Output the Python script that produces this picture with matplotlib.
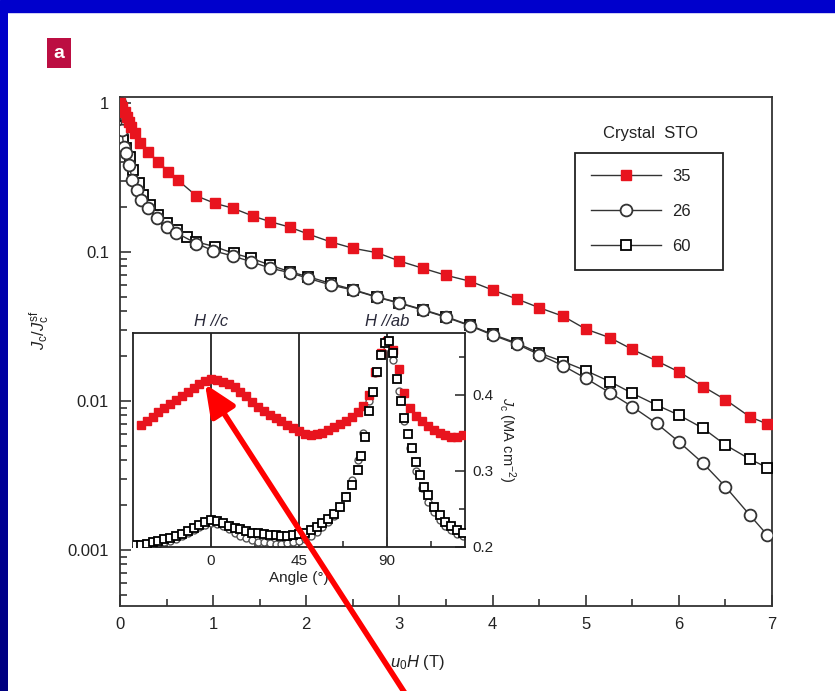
import numpy as np
import matplotlib
matplotlib.use("Agg")
import matplotlib.pyplot as plt
from matplotlib import font_manager
from matplotlib.patches import Rectangle, FancyArrowPatch
from matplotlib.ticker import FixedLocator, FixedFormatter, NullFormatter

# narrow helvetica-like font if there is one
try:
    font_manager.findfont("Liberation Sans Narrow", fallback_to_default=False)
    FONT = "Liberation Sans Narrow"
except ValueError:
    FONT = "Liberation Sans"
plt.rcParams["font.family"] = [FONT, "DejaVu Sans"]
plt.rcParams["mathtext.fontset"] = "custom"
plt.rcParams["mathtext.rm"] = FONT
plt.rcParams["mathtext.it"] = FONT + ":italic"

TXT = "#222222"

# main panel: Jc/Jc(sf) vs field
H_35 = [0.0, 0.02, 0.05, 0.08, 0.1, 0.12, 0.16, 0.21, 0.3, 0.41, 0.52, 0.62, 0.82,
        1.02, 1.21, 1.43, 1.61, 1.82, 2.02, 2.26, 2.5, 2.76, 3.0, 3.25, 3.5, 3.76,
        4.0, 4.26, 4.5, 4.76, 5.0, 5.26, 5.5, 5.76, 6.0, 6.26, 6.5, 6.76, 6.95]
jc_35 = [1.0, 0.944, 0.874, 0.809, 0.749, 0.693, 0.626, 0.537, 0.471, 0.404, 0.346,
         0.304, 0.238, 0.212, 0.197, 0.174, 0.160, 0.147, 0.132, 0.117, 0.106,
         0.0989, 0.087, 0.0778, 0.0698, 0.0636, 0.0556, 0.0484, 0.0423, 0.037,
         0.0304, 0.0266, 0.0222, 0.0186, 0.0157, 0.0125, 0.0102, 0.00785, 0.0070]

H_26 = [0.0, 0.02, 0.04, 0.06, 0.1, 0.13, 0.18, 0.23, 0.3, 0.4, 0.5, 0.6, 0.82,
        1.0, 1.21, 1.41, 1.61, 1.82, 2.02, 2.26, 2.5, 2.76, 3.0, 3.25, 3.5, 3.76,
        4.0, 4.26, 4.5, 4.76, 5.0, 5.26, 5.5, 5.76, 6.0, 6.26, 6.5, 6.76, 6.95]
jc_26 = [1.0, 0.659, 0.509, 0.460, 0.384, 0.304, 0.261, 0.223, 0.197, 0.168, 0.148,
         0.135, 0.114, 0.102, 0.094, 0.086, 0.078, 0.0727, 0.0666, 0.0601, 0.0556,
         0.0497, 0.0453, 0.0408, 0.0365, 0.0319, 0.0277, 0.0241, 0.0205, 0.0172,
         0.0142, 0.01137, 0.00916, 0.00708, 0.00533, 0.00382, 0.00266, 0.00172,
         0.00126]

H_60 = [0.0, 0.03, 0.06, 0.11, 0.14, 0.2, 0.25, 0.32, 0.41, 0.5, 0.61, 0.72, 0.82,
        1.02, 1.22, 1.41, 1.61, 1.82, 2.02, 2.26, 2.5, 2.76, 3.0, 3.25, 3.5, 3.76,
        4.0, 4.26, 4.5, 4.76, 5.0, 5.26, 5.5, 5.76, 6.0, 6.26, 6.5, 6.76, 6.95]
jc_60 = [0.70, 0.565, 0.497, 0.436, 0.355, 0.289, 0.241, 0.207, 0.177, 0.156, 0.141,
         0.127, 0.117, 0.1085, 0.098, 0.0907, 0.0818, 0.0738, 0.0683, 0.0616,
         0.0560, 0.0500, 0.0456, 0.0411, 0.0368, 0.0322, 0.0280, 0.0245, 0.0210,
         0.0184, 0.0160, 0.0135, 0.01127, 0.0094, 0.00805, 0.00656, 0.00507,
         0.00408, 0.00357]

x_ticks = [0, 1, 2, 3, 4, 5, 6, 7]
y_ticks = [1, 0.1, 0.01, 0.001]
y_ticklabels = ["1", "0.1", "0.01", "0.001"]

# inset: Jc vs angle (MA cm^-2)
ang_35 = [-36, -33, -30, -27, -24, -21, -18, -15, -12, -9, -6, -3, 0, 3, 6, 9, 12,
          15, 18, 21, 24, 27, 30, 33, 36, 39, 42, 45, 48, 51, 54, 57, 60, 63, 66,
          69, 72, 75, 78, 81, 84, 87, 90, 93, 96, 99, 102, 105, 108, 111, 114,
          117, 120, 123, 126, 129]
ja_35 = [0.360, 0.366, 0.371, 0.377, 0.382, 0.388, 0.393, 0.398, 0.404, 0.409,
         0.414, 0.418, 0.421, 0.419, 0.417, 0.414, 0.410, 0.404, 0.398, 0.391,
         0.384, 0.378, 0.373, 0.369, 0.365, 0.360, 0.356, 0.352, 0.349, 0.347,
         0.348, 0.350, 0.353, 0.357, 0.361, 0.366, 0.371, 0.377, 0.385, 0.400,
         0.430, 0.455, 0.470, 0.459, 0.434, 0.402, 0.383, 0.372, 0.365, 0.359,
         0.354, 0.350, 0.347, 0.345, 0.345, 0.347]

ang_60 = [-39, -36, -33, -30, -27, -24, -21, -18, -15, -12, -9, -6, -3, 0, 3, 6, 9,
          12, 15, 18, 21, 24, 27, 30, 33, 36, 39, 42, 45, 48, 51, 54, 57, 60, 63,
          66, 69, 72, 75, 77, 79, 81, 83, 85, 87, 89, 91, 93, 95, 97, 99, 101,
          103, 105, 107, 109, 111, 114, 117, 120, 123, 126, 129]
ja_60 = [0.202, 0.203, 0.204, 0.206, 0.208, 0.210, 0.212, 0.214, 0.217, 0.221,
         0.225, 0.229, 0.233, 0.235, 0.234, 0.231, 0.228, 0.225, 0.223, 0.221,
         0.219, 0.218, 0.217, 0.216, 0.2155, 0.215, 0.215, 0.216, 0.217, 0.219,
         0.222, 0.226, 0.231, 0.237, 0.243, 0.252, 0.265, 0.281, 0.301, 0.320,
         0.345, 0.378, 0.404, 0.430, 0.452, 0.468, 0.470, 0.455, 0.420, 0.392,
         0.370, 0.348, 0.330, 0.312, 0.295, 0.279, 0.268, 0.253, 0.242, 0.233,
         0.227, 0.222, 0.218]

ang_26 = [-39, -36, -33, -30, -27, -24, -21, -18, -15, -12, -9, -6, -3, 0, 3, 6, 9,
          12, 15, 18, 21, 24, 27, 30, 33, 36, 39, 42, 45, 48, 51, 54, 57, 60, 63,
          66, 69, 72, 75, 78, 81, 84, 87, 90, 93, 96, 99, 102, 105, 108, 111, 114,
          117, 120, 123, 126, 129]
ja_26 = [0.200, 0.200, 0.201, 0.202, 0.204, 0.206, 0.208, 0.211, 0.214, 0.218,
         0.222, 0.226, 0.229, 0.231, 0.230, 0.227, 0.223, 0.219, 0.215, 0.212,
         0.209, 0.207, 0.206, 0.205, 0.204, 0.204, 0.205, 0.206, 0.208, 0.211,
         0.215, 0.220, 0.226, 0.233, 0.241, 0.252, 0.267, 0.288, 0.314, 0.350,
         0.392, 0.428, 0.452, 0.462, 0.445, 0.405, 0.365, 0.330, 0.300, 0.277,
         0.259, 0.246, 0.236, 0.228, 0.222, 0.217, 0.214]

W, Hpx = 835, 691
fig = plt.figure(figsize=(W / 100, Hpx / 100), dpi=100)
fig.patch.set_facecolor("white")

# blue slide frame (top band + left gradient)
fig.add_artist(Rectangle((0, 1 - 12 / Hpx), 1, 12 / Hpx, transform=fig.transFigure,
                         color="#0000CC", zorder=-5))
ax_bg = fig.add_axes([0, 0, 8 / W, 1 - 12 / Hpx])
grad = np.linspace(0, 1, 200)[:, None]
top_c = np.array([0.0, 0.0, 0.80])
bot_c = np.array([0.0, 0.0, 0.50])
ax_bg.imshow((top_c * (1 - grad) + bot_c * grad)[:, None, :].repeat(2, axis=1),
             aspect="auto")
ax_bg.axis("off")

# panel letter
fig.text(59 / W, 1 - 53 / Hpx, "a", color="white", fontsize=14, weight="bold",
         ha="center", va="center",
         bbox=dict(boxstyle="square,pad=0.35", fc="#BC0E42", ec="none"))

ax = fig.add_axes([120 / W, 1 - 606 / Hpx, 652 / W, 509 / Hpx])
ax.set_yscale("log")
ax.plot(H_60, jc_60, "-", color="#333333", lw=1.0, marker="s", ms=7.5,
        mfc="white", mec="black", mew=1.3, label="60", zorder=3)
ax.plot(H_26, jc_26, "-", color="#333333", lw=1.0, marker="o", ms=8.5,
        mfc="white", mec="#333333", mew=1.3, label="26", zorder=4)
ax.plot(H_35, jc_35, "-", color="#333333", lw=1.0, marker="s", ms=7.5,
        mfc="#E8141E", mec="#E8141E", label="35", zorder=5)
ax.set_xlim(0, 7)
ax.set_ylim(0.000421, 1.097)

ax.xaxis.set_major_locator(FixedLocator(x_ticks))
ax.xaxis.set_minor_locator(FixedLocator(np.arange(0.5, 7, 1.0)))
ax.yaxis.set_major_locator(FixedLocator(y_ticks))
ax.yaxis.set_major_formatter(FixedFormatter(y_ticklabels))
minor_y = [m * 10.0 ** e for e in range(-4, 0) for m in range(2, 10)]
ax.yaxis.set_minor_locator(FixedLocator(minor_y))
ax.yaxis.set_minor_formatter(NullFormatter())
ax.tick_params(which="both", direction="in", top=False, right=False,
               colors="#333333", labelcolor=TXT, labelsize=12, width=1.2)
ax.tick_params(which="major", length=8, pad=8)
ax.tick_params(which="minor", length=5)
for s in ax.spines.values():
    s.set_linewidth(1.3)
    s.set_color("#333333")

ax.set_xlabel(r"$u_0H$ (T)", fontsize=12, color=TXT)
ax.xaxis.set_label_coords(0.457, -0.092)
ax.set_ylabel(r"$J_\mathrm{c}/J_\mathrm{c}^\mathrm{sf}$", fontsize=12, color=TXT)
ax.yaxis.set_label_coords(-0.104, 0.542)

handles, labels = ax.get_legend_handles_labels()
order = [2, 1, 0]
leg = ax.legend([handles[i] for i in order], [labels[i] for i in order],
                loc="upper left", bbox_to_anchor=(0.698, 0.666, 0.227, 0.224),
                mode="expand", borderaxespad=0, fontsize=12, handlelength=4.2,
                handletextpad=0.7, labelspacing=1.2, borderpad=0.95,
                fancybox=False, framealpha=1, edgecolor="#222222")
leg.get_frame().set_linewidth(1.3)
for t in leg.get_texts():
    t.set_color(TXT)
ax.text(0.813, 0.929, "Crystal  STO", transform=ax.transAxes, ha="center",
        va="center", fontsize=12, color=TXT)

# inset
axin = fig.add_axes([133 / W, 1 - 547 / Hpx, 332 / W, 214 / Hpx])
for a in [0, 45, 90]:
    axin.axvline(a, color="#222222", lw=1.3, zorder=1)
axin.plot(ang_26, ja_26, "o", ms=5, mfc="white", mec="#555555", mew=1.0, zorder=2)
axin.plot(ang_35, ja_35, "s", ms=6, mfc="#E8141E", mec="#E8141E", zorder=3)
axin.plot(ang_60, ja_60, "s", ms=5.5, mfc="white", mec="black", mew=1.3, zorder=4)
axin.set_xlim(-40, 130)
axin.set_ylim(0.2, 0.481)
axin.xaxis.set_major_locator(FixedLocator([0, 45, 90]))
axin.xaxis.set_minor_locator(FixedLocator([-22.5, 22.5, 67.5, 112.5]))
axin.yaxis.tick_right()
axin.yaxis.set_label_position("right")
axin.yaxis.set_major_locator(FixedLocator([0.2, 0.3, 0.4]))
axin.yaxis.set_major_formatter(FixedFormatter(["0.2", "0.3", "0.4"]))
axin.yaxis.set_minor_locator(FixedLocator([0.25, 0.35, 0.45]))
axin.tick_params(which="both", direction="in", left=False, top=False,
                 colors="#333333", labelcolor=TXT, labelsize=11, width=1.2)
axin.tick_params(which="major", length=7, pad=5)
axin.tick_params(which="minor", length=4)
for s in axin.spines.values():
    s.set_linewidth(1.3)
    s.set_color("#222222")
axin.set_xlabel("Angle (°)", fontsize=11, color=TXT, labelpad=2)
axin.set_ylabel(r"$J_\mathrm{c}$ (MA cm$^{-2}$)", fontsize=10.5, color=TXT,
                rotation=270, labelpad=18)
axin.text(0, 1.02, "H //c", style="italic", fontsize=12, color="#2a2a3a",
          transform=axin.get_xaxis_transform(), ha="center", va="bottom")
axin.text(90, 1.02, "H //ab", style="italic", fontsize=12, color="#2a2a3a",
          transform=axin.get_xaxis_transform(), ha="center", va="bottom")

# red pointer arrow
arrow = FancyArrowPatch((408 / W, -0.01), (205 / W, 1 - 384 / Hpx),
                        transform=fig.transFigure,
                        arrowstyle="-|>,head_length=0.8,head_width=0.35",
                        mutation_scale=24, color="#FF0000", lw=4.0, zorder=20,
                        shrinkA=0, shrinkB=0)
fig.add_artist(arrow)

fig.savefig("out.png", dpi=100, facecolor=fig.get_facecolor())
